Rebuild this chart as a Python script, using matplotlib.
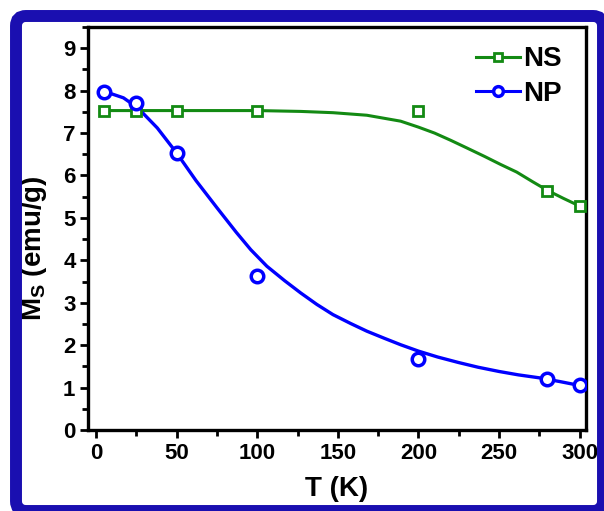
import matplotlib
matplotlib.use("Agg")
import matplotlib.pyplot as plt
from matplotlib.patches import FancyBboxPatch
from matplotlib.ticker import MultipleLocator

plt.rcParams['font.family'] = ['Liberation Sans', 'DejaVu Sans']
plt.rcParams['font.weight'] = 'bold'
plt.rcParams['mathtext.fontset'] = 'custom'
plt.rcParams['mathtext.rm'] = 'Liberation Sans:bold'
plt.rcParams['mathtext.default'] = 'rm'

# measured points
T = [5, 25, 50, 100, 200, 280, 300]
ns = [7.53, 7.53, 7.53, 7.53, 7.53, 5.64, 5.28]
np_ = [7.97, 7.70, 6.54, 3.64, 1.67, 1.21, 1.05]

# fitted curves
T_ns_fit = [5, 50, 100, 127, 147, 168, 189, 200, 210, 220, 230, 241, 251, 261, 271, 280, 290, 300]
ns_fit = [7.53, 7.53, 7.53, 7.51, 7.48, 7.42, 7.28, 7.14, 7.00, 6.83, 6.65, 6.45, 6.26, 6.08, 5.85,
          5.65, 5.46, 5.28]
T_np_fit = [5, 10, 17, 26, 38, 50, 62, 75, 87, 96, 106, 117, 127, 137, 147, 158, 168, 179, 189,
            200, 212, 225, 237, 250, 262, 275, 288, 300]
np_fit = [7.97, 7.92, 7.83, 7.59, 7.12, 6.53, 5.88, 5.24, 4.66, 4.25, 3.86, 3.52, 3.23, 2.96, 2.72,
          2.51, 2.33, 2.16, 2.01, 1.86, 1.72, 1.59, 1.48, 1.38, 1.30, 1.23, 1.14, 1.05]

green = '#138a13'
blue = '#0000ff'

fig = plt.figure(figsize=(6.04, 5.11), dpi=100)
ax = fig.add_axes([88/604, 81/511, 498/604, 403/511])

ax.plot(T_ns_fit, ns_fit, color=green, lw=2.2, zorder=2)
ax.plot(T_np_fit, np_fit, color=blue, lw=2.4, zorder=2)
ax.plot(T, ns, 's', mfc='white', mec=green, mew=2, ms=7, zorder=3)
ax.plot(T, np_, 'o', mfc='white', mec=blue, mew=2.5, ms=9, zorder=3)

# legend handles
ax.plot([], [], '-s', color=green, lw=2.2, mfc='white', mec=green, mew=2, ms=6, label='NS')
ax.plot([], [], '-o', color=blue, lw=2.2, mfc='white', mec=blue, mew=2.5, ms=7, label='NP')
ax.legend(loc='upper right', frameon=False, fontsize=20, handlelength=1.6,
          handletextpad=0.1, labelspacing=0.3, borderaxespad=0.3,
          bbox_to_anchor=(0.99, 1.0))

ax.set_xlim(-5, 304)
ax.set_ylim(0, 9.5)
ax.xaxis.set_major_locator(MultipleLocator(50))
ax.xaxis.set_minor_locator(MultipleLocator(25))
ax.yaxis.set_major_locator(MultipleLocator(1))
ax.yaxis.set_minor_locator(MultipleLocator(0.5))
ax.tick_params(which='major', direction='out', length=6, width=2, labelsize=16, pad=3)
ax.tick_params(which='minor', direction='out', length=4, width=2)
for s in ax.spines.values():
    s.set_linewidth(2.4)

ax.set_xlabel('T (K)', fontsize=20, fontweight='bold')
ax.set_ylabel(r'M$_{S}$ (emu/g)', fontsize=20, fontweight='bold')
ax.yaxis.set_label_coords(-0.078, 0.45)
ax.xaxis.set_label_coords(0.5, -0.115)

frame = FancyBboxPatch((0.16, 0.0), 5.87, 4.95,
                       boxstyle='round,pad=0,rounding_size=0.1',
                       transform=fig.dpi_scale_trans, fill=False,
                       edgecolor='#1a0fb0', lw=8.6, zorder=10)
fig.patches.append(frame)

fig.savefig('out.png', dpi=100)
